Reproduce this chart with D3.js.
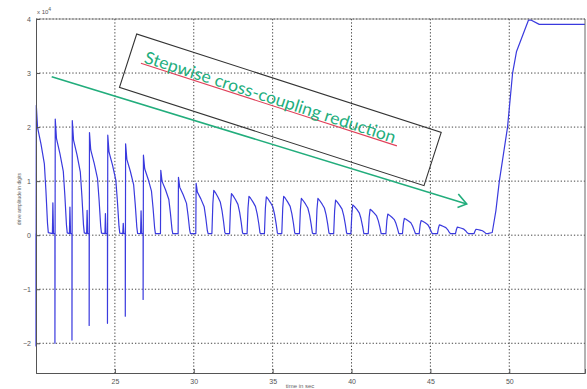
<!DOCTYPE html>
<html>
<head>
<meta charset="utf-8">
<script src="https://cdn.jsdelivr.net/npm/d3@7"></script>
<style>
  body { margin: 0; background: #fff; }
  svg { display: block; }
</style>
</head>
<body>
<svg></svg>
<script>
const W = 587, H = 389;
const margin = {top: 19, right: 2, bottom: 16, left: 36};
const width = W - margin.left - margin.right;
const height = H - margin.top - margin.bottom;

// rising edge of every pulse (sec) and its peak (x 10^4 digits)
const cycleRise = [20.00, 21.20, 22.28, 23.37, 24.53, 25.66, 26.79, 27.89, 29.01, 30.13,
  31.15, 32.27, 33.38, 34.48, 35.58, 36.70, 37.75, 38.87, 39.96, 41.06,
  42.18, 43.23, 44.29, 45.45, 46.59, 47.77];
const cyclePeak = [2.40, 2.15, 2.12, 1.90, 1.85, 1.69, 1.48, 1.20, 1.07, 0.96,
  0.83, 0.77, 0.72, 0.71, 0.72, 0.68, 0.68, 0.65, 0.56, 0.48,
  0.39, 0.31, 0.27, 0.19, 0.15, 0.11];
// negative spikes at the first rising edges, small spikes just before them
const spikeLow = [-2.05, -2.00, -1.94, -1.67, -1.63, -1.50, -1.19];
const spikeHigh = [null, 0.60, 0.52, 0.46, 0.40, 0.22, 0.45];
const baseValue = 0.03;
// pulse outline: [sec after rise, fraction of peak]
const sharpShape = [[0.02, 1], [0.10, 0.83], [0.32, 0.70], [0.53, 0.55], [0.63, 0.34], [0.73, 0.09], [0.78, 0.02]];
const roundShape = [[0.06, 0.7], [0.12, 1], [0.22, 0.95], [0.38, 0.85], [0.53, 0.74], [0.64, 0.55], [0.74, 0.30], [0.82, 0.06], [0.86, 0.02]];
// final step up
const tailT = [48.92, 49.15, 49.37, 49.89, 50.21, 50.46, 51.22, 51.37, 51.90, 54.80];
const tailV = [0.05, 0.45, 1.00, 2.00, 3.00, 3.40, 3.98, 3.98, 3.90, 3.90];

const xTicks = [25, 30, 35, 40, 45, 50];
const yTicks = [-2, -1, 0, 1, 2, 3, 4];

const svg = d3.select('svg').attr('width', W).attr('height', H);
const g = svg.append('g').attr('transform', 'translate(' + margin.left + ',' + margin.top + ')');

const x = d3.scaleLinear().domain([20, 54.8]).range([0, width]);
const y = d3.scaleLinear().domain([-2.55, 4]).range([height, 0]);

// grid
g.selectAll('.vgrid').data(xTicks).enter().append('line')
  .attr('x1', d => x(d)).attr('x2', d => x(d)).attr('y1', 0).attr('y2', height)
  .style('stroke', '#444').style('stroke-width', 1).style('stroke-dasharray', '1.3,2');
g.selectAll('.hgrid').data(yTicks).enter().append('line')
  .attr('x1', 0).attr('x2', width).attr('y1', d => y(d)).attr('y2', d => y(d))
  .style('stroke', '#444').style('stroke-width', 1).style('stroke-dasharray', '1.3,2');

// signal
const pts = [];
cycleRise.forEach((t0, i) => {
  if (i < spikeHigh.length && spikeHigh[i] != null) {
    pts.push([t0 - 0.16, baseValue], [t0 - 0.13, spikeHigh[i]], [t0 - 0.09, baseValue]);
  }
  pts.push([t0, baseValue]);
  if (i < spikeLow.length) pts.push([t0, spikeLow[i]]);
  const shape = i < 10 ? sharpShape : roundShape;
  shape.forEach(([dt, f]) => pts.push([t0 + dt, Math.max(baseValue, f * cyclePeak[i])]));
});
tailT.forEach((t, i) => pts.push([t, tailV[i]]));

const line = d3.line().x(d => x(d[0])).y(d => y(d[1]));
g.append('path').datum(pts)
  .attr('d', line)
  .style('fill', 'none').style('stroke', '#3a3ade').style('stroke-width', 1.2)
  .style('stroke-linejoin', 'round');

// axes (MATLAB style, ticks inward)
const xAxis = d3.axisBottom(x).tickValues(xTicks).tickSize(-4).tickPadding(6).tickFormat(d3.format('d'));
const yAxis = d3.axisLeft(y).tickValues(yTicks).tickSize(-4).tickPadding(5).tickFormat(d3.format('d'));
const xa = g.append('g').attr('transform', 'translate(0,' + height + ')').call(xAxis);
const ya = g.append('g').call(yAxis);
[xa, ya].forEach(a => {
  a.select('.domain').style('stroke', '#555');
  a.selectAll('.tick line').style('stroke', '#555');
  a.selectAll('text').style('font-family', 'Liberation Sans, sans-serif').style('font-size', '7px').style('fill', '#555');
});
g.append('line').attr('x1', width).attr('x2', width).attr('y1', 0).attr('y2', height).style('stroke', '#666');
g.append('line').attr('x1', 0).attr('x2', width).attr('y1', 0).attr('y2', 0).style('stroke', '#666').style('stroke-width', 0.6);

// labels
const exp = svg.append('text').attr('x', 37).attr('y', 14)
  .style('font-family', 'Liberation Sans, sans-serif').style('font-size', '6px').style('fill', '#555');
exp.append('tspan').text('x 10');
exp.append('tspan').attr('dy', -3).style('font-size', '5px').text('4');

svg.append('text').attr('x', 300).attr('y', 388).attr('text-anchor', 'middle')
  .style('font-family', 'Liberation Sans, sans-serif').style('font-size', '6px').style('fill', '#666')
  .text('time in sec');
svg.append('text').attr('transform', 'translate(21,199) rotate(-90)').attr('text-anchor', 'middle')
  .style('font-family', 'Liberation Sans, sans-serif').style('font-size', '5px').style('fill', '#666')
  .text('drive amplitude in digits');

// annotation
const green = '#22ad7c';
const arrow = svg.append('g');
arrow.append('line').attr('x1', 51.7).attr('y1', 76.7).attr('x2', 466.7).attr('y2', 204)
  .style('stroke', green).style('stroke-width', 1.6);
arrow.append('path').attr('d', 'M458.3,194 L466.7,204 L457.5,207.5')
  .style('fill', 'none').style('stroke', green).style('stroke-width', 1.6);

const note = svg.append('g').attr('transform', 'translate(136.7,34) rotate(17.9)');
note.append('rect').attr('x', 0).attr('y', 0).attr('width', 320).attr('height', 56)
  .style('fill', 'none').style('stroke', '#333').style('stroke-width', 1.1);
note.append('line').attr('x1', 13).attr('x2', 282).attr('y1', 26.5).attr('y2', 26.5)
  .style('stroke', '#e0405a').style('stroke-width', 1.1);
note.append('text').attr('x', 15).attr('y', 25)
  .attr('textLength', 263).attr('lengthAdjust', 'spacingAndGlyphs')
  .style('font-family', 'Lato, Open Sans, sans-serif').style('font-size', '17px').style('fill', green)
  .text('Stepwise cross-coupling reduction');
</script>
</body>
</html>
